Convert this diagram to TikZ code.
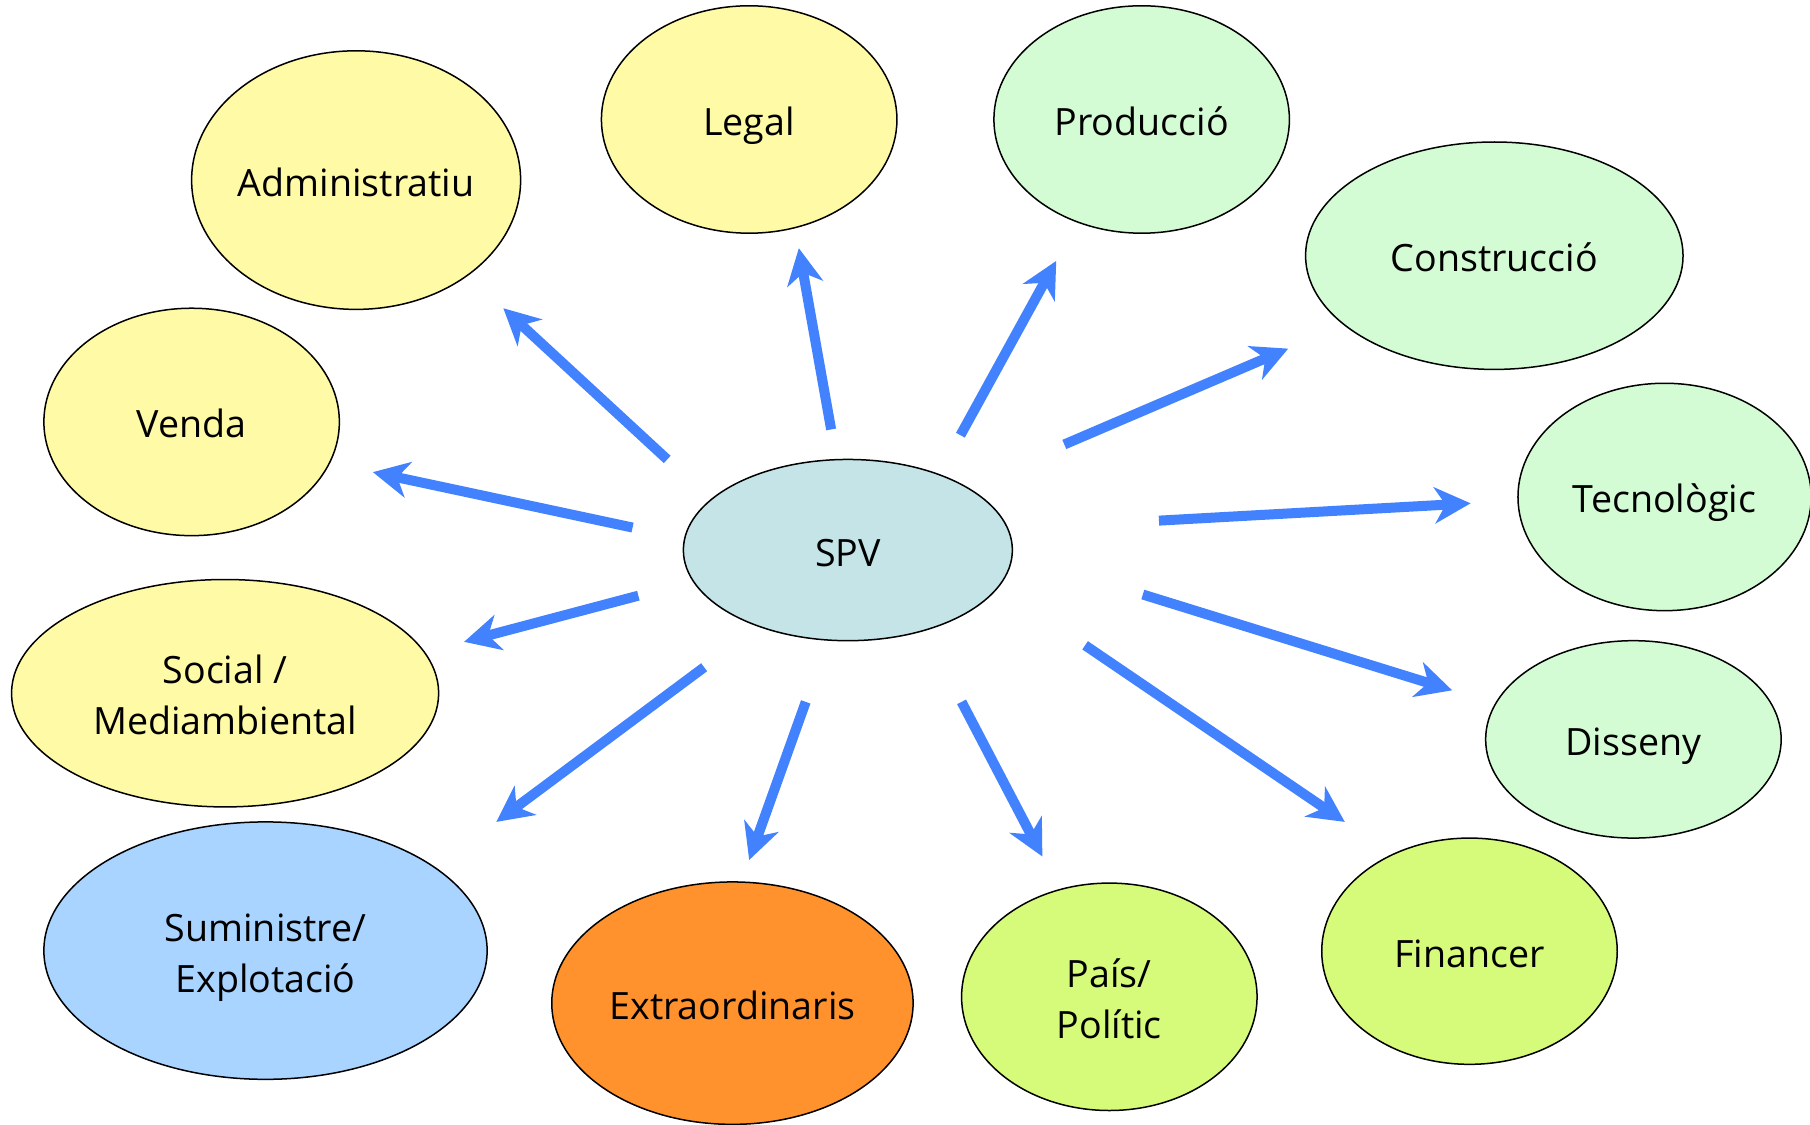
\documentclass[tikz,border=0pt]{standalone}
\usepackage{fontspec}
\setmainfont{Open Sans}
\usetikzlibrary{
    arrows.meta,
    shapes.geometric
}
\definecolor{paleyellow}{RGB}{255,250,165}
\definecolor{palegreen}{RGB}{212,252,212}
\definecolor{paleteal}{RGB}{196,228,232}
\definecolor{paleblue}{RGB}{168,212,255}
\definecolor{deeporange}{RGB}{255,146,45}
\definecolor{limegreen}{RGB}{214,250,122}
\definecolor{arrowblue}{RGB}{66,130,255}
\tikzset{
    every picture/.style = {
        > = {Stealth[length=3.6mm, width=3.6mm, inset=1.1mm]}
    },
    every node/.style = {
        align = center,
        font = \fontsize{10.7pt}{14.5pt}\selectfont
    },
    bubble/.style 2 args = {
        ellipse,
        draw,
        line width = 0.15mm,
        inner xsep = -5mm,
        inner ysep = 0pt,
        text height = 11.8pt,
        text depth = 2.7pt,
        minimum width = #1*0.23086mm,
        minimum height = #2*0.23086mm
    },
    twolines/.style = {
        text height = 26.3pt
    },
    spoke/.style = {
        ->,
        draw = arrowblue,
        line width = 1mm
    }
}

\begin{document}
\begin{tikzpicture}[x=0.11543mm, y=-0.11543mm]
    \useasboundingbox (0,0) rectangle (1568,974);

    % centre
    \node[bubble={142.5}{78.5}, fill=paleteal] (spv) at (734.5,476.5) {SPV};

    % yellow ones
    \node[bubble={142.5}{112}, fill=paleyellow] (admin) at (308.5,156) {Administratiu};
    \node[bubble={128}{98.5}, fill=paleyellow] (legal) at (649,103.5) {Legal};
    \node[bubble={128}{98.5}, fill=paleyellow] (venda) at (166,365.5) {Venda};
    \node[bubble={185}{98.5}, fill=paleyellow, twolines] (social) at (195,600.5) {Social /\\Mediambiental};

    % green ones
    \node[bubble={128}{98.5}, fill=palegreen] (produccio) at (989,103.5) {Producció};
    \node[bubble={163.5}{98.5}, fill=palegreen] (construccio) at (1294.5,221.5) {Construcció};
    \node[bubble={127}{98.5}, fill=palegreen] (tecnologic) at (1442,430.5) {Tecnològic};
    \node[bubble={128}{85.5}, fill=palegreen] (disseny) at (1415,640.5) {Disseny};

    % bottom row
    \node[bubble={192}{111.5}, fill=paleblue, twolines] (suministre) at (230,823.5) {Suministre/\\Explotació};
    \node[bubble={156.5}{105}, fill=deeporange] (extra) at (634.5,869) {Extraordinaris};
    \node[bubble={128}{98.5}, fill=limegreen, twolines] (pais) at (961,863.5) {País/\\Polític};
    \node[bubble={128}{98}, fill=limegreen] (financer) at (1273,824) {Financer};

    % arrows out of the SPV
    \foreach \n/\sx/\sy/\ex/\ey in {
        admin/578/398/436/267,
        legal/720/372/692/215,
        produccio/832/377/915/226,
        construccio/922/385/1116/302,
        venda/548/457/323/409,
        tecnologic/1004/451/1274/436,
        social/553/516/402/556,
        disseny/990/515/1258/598,
        suministre/610/578/430/712,
        extra/698/608/649/745,
        pais/833/608/903/742,
        financer/940/559/1165/712} {
        \coordinate (\n-from) at (\sx,\sy);
        \coordinate (\n-to) at (\ex,\ey);
        \draw[spoke] (\n-from) -- (\n-to);
    }
\end{tikzpicture}
\end{document}
